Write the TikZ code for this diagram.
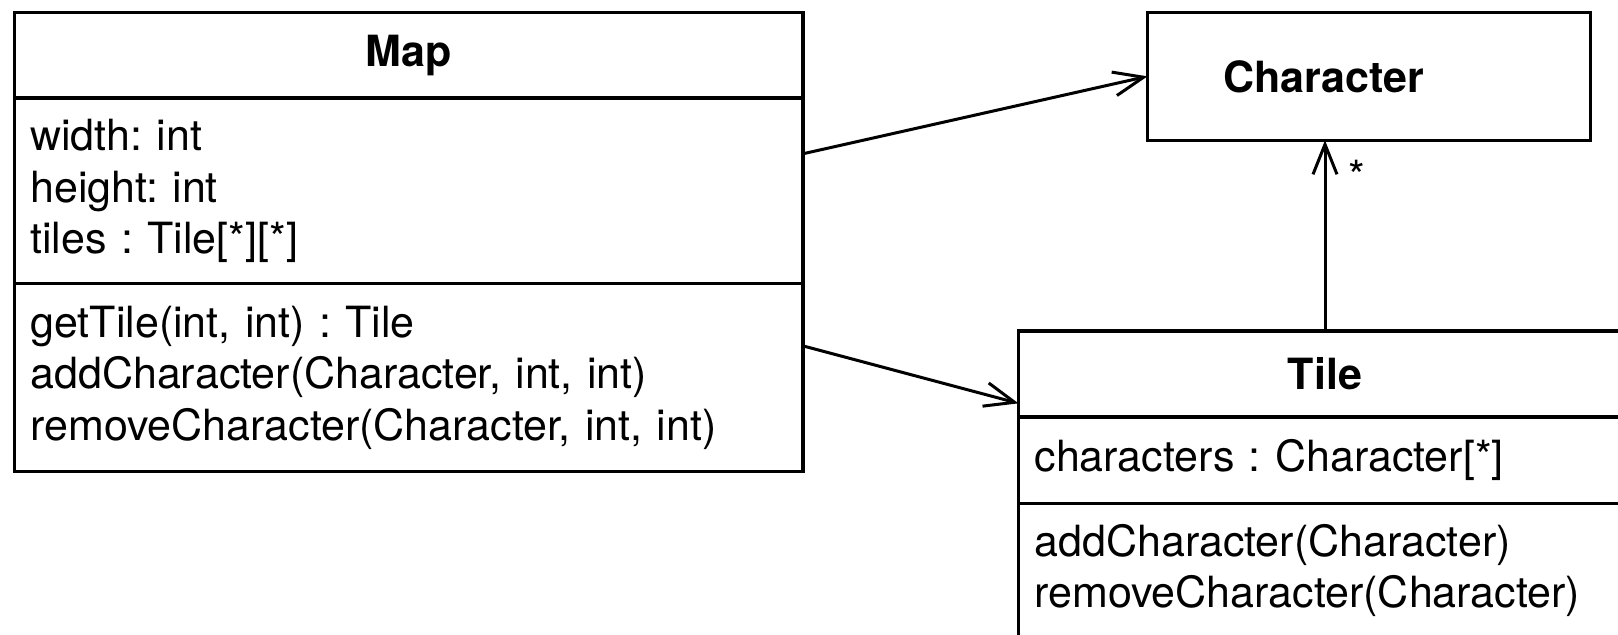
\documentclass[tikz,border=0pt]{standalone}
\usepackage{fontspec}
\setmainfont{TeX Gyre Heros}
\usetikzlibrary{positioning,fit,arrows.meta}

\begin{document}
\frenchspacing
\begin{tikzpicture}[x=0.5pt,y=-0.5pt,
		line width=1.7pt,
		font=\fontsize{21.5pt}{25.6pt}\selectfont,
		box/.style 2 args={draw, rectangle, outer sep=0pt, inner xsep=8pt, inner ysep=0pt,
			minimum width=#1, text width=#2, align=left},
		head/.style 2 args={box={#1}{#2}, align=center, font=\fontsize{21.5pt}{25.6pt}\selectfont\bfseries},
		assoc/.style={line width=1.5pt, -{Straight Barb[length=15pt,width=12pt]}}]
	\path[use as bounding box, clip] (0,0) rectangle (1618,635);
	
	%%% MAP
	\node[head={394.2pt}{378.2pt}, minimum height=42.8pt, anchor=north west] (maptitle) at (14.4,12.4) {Map};
	\node[box={394.2pt}{378.2pt}, minimum height=92.9pt, below=0pt of maptitle] (mapattr)
		{width: int\\height: int\\tiles : Tile[*][*]};
	\node[box={394.2pt}{378.2pt}, minimum height=93.9pt, below=0pt of mapattr] (mapops)
		{getTile(int, int) : Tile\\addCharacter(Character, int, int)\\removeCharacter(Character, int, int)};
	\node[fit=(maptitle)(mapops), inner sep=0pt, outer sep=0pt] (map) {};
	
	%%% CHARACTER (label sits left of centre)
	\node[head={221.35pt}{205.35pt}, align=left, minimum height=63.95pt, anchor=north west] (character)
		at (1147.5,12.4) {\hspace*{30pt}Character};
	
	%%% TILE
	\node[head={306.5pt}{290.5pt}, minimum height=42.85pt, anchor=north west] (tiletitle) at (1018.5,331.2) {Tile};
	\node[box={306.5pt}{290.5pt}, minimum height=43.35pt, below=0pt of tiletitle] (tileattr)
		{characters : Character[*]};
	\node[box={306.5pt}{290.5pt}, minimum height=67pt, below=0pt of tileattr] (tileops)
		{addCharacter(Character)\\removeCharacter(Character)};
	\node[fit=(tiletitle)(tileops), inner sep=0pt, outer sep=0pt] (tile) {};
	
	%%% ASSOCIATIONS
	\draw[assoc] (map) -- (character.west);
	\draw[assoc] (map) -- (tile);
	\draw[assoc] (tile.north) -- (tile.north |- character.south)
		node[at end, anchor=north west, inner sep=0pt, xshift=11pt, yshift=-9pt] {*};
	
\end{tikzpicture}
\end{document}
